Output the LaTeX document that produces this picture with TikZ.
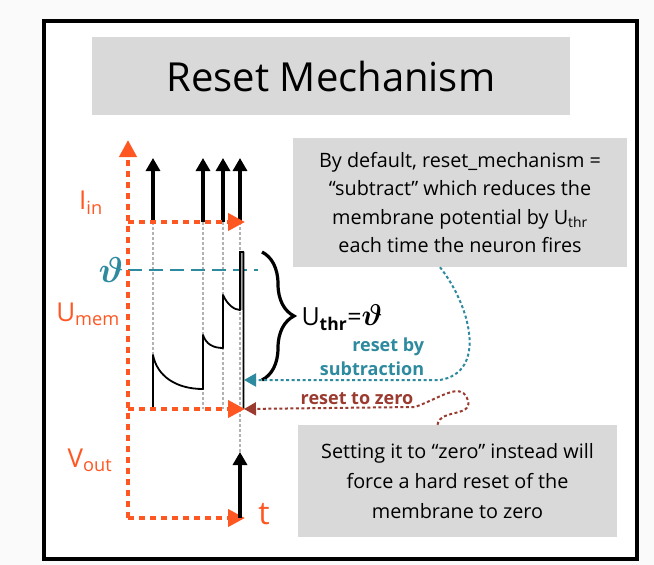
\documentclass[tikz,border=0pt]{standalone}
\usepackage{amsmath,amssymb,bm}
\usepackage{fontspec}
\setmainfont{Open Sans}
\usetikzlibrary{arrows.meta,decorations.pathreplacing}
\definecolor{spikeorange}{HTML}{FF5722}
\definecolor{thrteal}{HTML}{2E8A9E}
\definecolor{zerored}{HTML}{9B3A2F}
\definecolor{boxgrey}{HTML}{D9D9D9}
\definecolor{pagegrey}{HTML}{FAFAFA}
\newcommand{\bigtheta}{\scalebox{1.45}{$\bm{\vartheta}$}}

\begin{document}
\begin{tikzpicture}[x=1pt,y=-1pt,
 font=\fontsize{19.8}{28.5}\selectfont,
 axis/.style={spikeorange,line width=4pt,dash pattern=on 6pt off 5pt,
   -{Triangle[length=17pt,width=17pt]}},
 spike/.style={black,line width=3.2pt,-{Triangle[length=13pt,width=14pt]}},
 guide/.style={black!30,line width=1.2pt,dash pattern=on 3pt off 2pt},
 greybox/.style={fill=boxgrey,inner sep=0pt,align=center},
 orangelbl/.style={spikeorange,font=\fontsize{26}{26}\selectfont},
 hint/.style={line width=2pt,dash pattern=on 3pt off 2.5pt},
 hinttip/.style={-{Triangle[length=12pt,width=13pt]}}]

% page and frame
\fill[pagegrey] (0,0) rectangle (654,565);
\useasboundingbox (0,0) rectangle (654,565);
\filldraw[fill=white,draw=black,line width=4.5pt] (44,21) rectangle (637,559);

\node[greybox,minimum width=478pt,minimum height=78pt,
  font=\fontsize{40}{40}\selectfont] (title) at (331,76) {Reset Mechanism};
\node[greybox,minimum width=334pt,minimum height=129pt] (note) at (460,202.5)
  {By default, reset\_mechanism =\\ \char"201C subtract\char"201D\ which reduces the\\
   membrane potential by U\textsubscript{thr}\\ each time the neuron fires};
\node[greybox,minimum width=319pt,minimum height=112pt,
  font=\fontsize{19.8}{30}\selectfont] (zero) at (457.5,481)
  {Setting it to \char"201C zero\char"201D\ instead will\\ force a hard reset of the\\
   membrane to zero};

% axes: one time line shared by input, membrane and output
\coordinate (O) at (128,518);
\coordinate (top) at (128,140);
\coordinate (inL) at (128,222);
\coordinate (inR) at (245,222);
\coordinate (memL) at (128,409);
\coordinate (memR) at (245,409);
\coordinate (outR) at (245,518);

% input spikes and their guides
\foreach \sx [count=\k] in {153,203,223,240}{
  \coordinate (s\k) at (\sx,222);
  \draw[guide] (s\k) -- (\sx,409);
  \draw[spike] (s\k) -- ++(0,-64);
}
\draw[guide] (240,409) -- (240,452);

% threshold
\coordinate (thrR) at (258,270);
\draw[thrteal,line width=1.5pt,dash pattern=on 14pt off 7pt] (128,270) -- (thrR);

% membrane trace
\filldraw[fill=black!35,draw=black,line width=1.4pt] (240,310) -- (240,252) -- (243.5,252) -- (243.5,310);
\draw[black,line width=1.8pt,line join=round]
  (153,409) -- (153,355) .. controls (157,376) and (176,389) .. (203,389)
  -- (203,335) .. controls (206,344) and (213,348) .. (223,348)
  -- (223,295) .. controls (227,304) and (234,310) .. (240,310)
  -- (240,252) -- (243.5,252) -- (243.5,409);

\draw[axis] (O) -- (top);
\draw[axis] (inL) -- (inR);
\draw[axis] (memL) -- (memR);
\draw[axis] (O) -- (outR);

% output spike
\coordinate (outS) at (240,518);
\draw[spike] (outS) -- ++(0,-66);

% labels
\node[orangelbl] (lin) at (91,203) {I\textsubscript{in}};
\node[thrteal,font=\fontsize{24}{24}\selectfont] (ltheta) at (111,270) {\bigtheta};
\node[orangelbl] (lmem) at (88,314) {U\textsubscript{mem}};
\node[orangelbl] (lout) at (90,460) {V\textsubscript{out}};
\node[spikeorange,font=\fontsize{32}{32}\selectfont] (lt) at (264,514) {t};

% threshold brace
\draw[decorate,decoration={brace,amplitude=32pt},line width=3.2pt] (262,252) -- (262,380);
\node[anchor=west,font=\fontsize{25}{25}\selectfont] (lthr) at (298,318)
  {U\textsubscript{\textbf{thr}}={\fontsize{20}{20}\selectfont\bigtheta}};

% reset hints
\node[thrteal,font=\bfseries\fontsize{18}{24}\selectfont,align=right] (lsub) at (372,357)
  {reset by\\subtraction};
\node[zerored,font=\bfseries\fontsize{18}{18}\selectfont] (lzero) at (357,399) {reset to zero};
\coordinate (subhit) at (244,380);
\coordinate (zerohit) at (244,409);
\draw[hint,thrteal,hinttip] ([xshift=-20pt]note.south)
  .. controls (470,305) and (488,372) .. (440,380) -- (subhit);
\draw[hint,zerored,hinttip] ([xshift=-20pt]zero.north)
  .. controls (440,408) and (476,418) .. (467,398)
  .. controls (460,382) and (440,398) .. (415,407) -- (zerohit);
\end{tikzpicture}
\end{document}
